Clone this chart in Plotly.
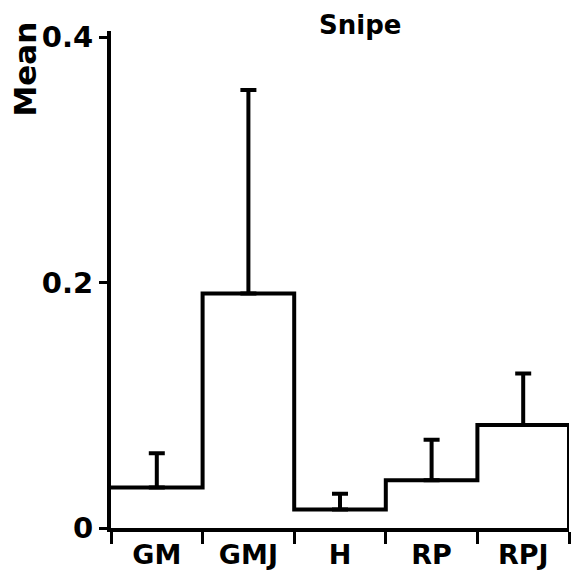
import plotly.graph_objects as go

# Snipe: mean per habitat with upper standard-error bars
categories = ["GM", "GMJ", "H", "RP", "RPJ"]
means = [0.033, 0.191, 0.015, 0.039, 0.084]
err_up = [0.028, 0.166, 0.013, 0.033, 0.042]
y_tick_vals = [0, 0.2, 0.4]
y_tick_text = ["0", "0.2", "0.4"]

W, H = 581, 571
ML, MR, MT, MB = 111, 12, 31, 43
FONT = "DejaVu Sans"
INK = "black"

pos = list(range(len(categories)))

# step outline: each category spans [i-0.5, i+0.5]; final edge drops to zero
edges = [p - 0.5 for p in pos] + [pos[-1] + 0.5]
step_x = edges + [edges[-1]]
step_y = means + [means[-1], 0]

fig = go.Figure()
fig.add_trace(go.Scatter(
    x=step_x, y=step_y, mode="lines", line_shape="hv",
    line=dict(color=INK, width=4), hoverinfo="skip", showlegend=False,
))
fig.add_trace(go.Scatter(
    x=pos, y=means, mode="markers", marker=dict(size=1, color="rgba(0,0,0,0)"),
    error_y=dict(type="data", symmetric=False, array=err_up,
                 arrayminus=[0] * len(means), color=INK, thickness=4, width=8),
    showlegend=False,
))

fig.update_xaxes(
    range=[-0.5, len(categories) - 0.5], automargin=False,
    tickmode="array", tickvals=pos, ticktext=categories,
    ticks="", showgrid=False, zeroline=False, ticklabelstandoff=0,
    showline=True, linecolor=INK, linewidth=4,
    tickfont=dict(family=FONT, size=27, color=INK, weight="bold"),
    minor=dict(tickmode="linear", tick0=-0.5, dtick=1, ticks="outside",
               ticklen=12, tickwidth=3, tickcolor=INK, showgrid=False),
)
fig.update_yaxes(
    range=[0, 0.405], automargin=False,
    tickmode="array", tickvals=y_tick_vals, ticktext=y_tick_text,
    ticks="outside", ticklen=8, tickwidth=3, tickcolor=INK,
    showgrid=False, zeroline=False,
    showline=True, linecolor=INK, linewidth=4,
    tickfont=dict(family=FONT, size=29, color=INK, weight="bold"),
)

plot_h = H - MT - MB
plot_w = W - ML - MR
fig.add_annotation(
    text="Mean", textangle=-90, showarrow=False,
    xref="paper", yref="paper",
    x=(24 - ML) / plot_w, y=(H - MB - 119) / plot_h,
    xanchor="center", yanchor="bottom",
    font=dict(family=FONT, size=31, color=INK, weight="bold"),
)
fig.add_annotation(
    text="Snipe", showarrow=False,
    xref="paper", yref="paper",
    x=(360 - ML) / plot_w, y=(H - MB - 25) / plot_h,
    xanchor="center", yanchor="middle",
    font=dict(family=FONT, size=26, color=INK, weight="bold"),
)

fig.update_layout(
    width=W, height=H,
    margin=dict(l=ML, r=MR, t=MT, b=MB, pad=0, autoexpand=False),
    paper_bgcolor="white", plot_bgcolor="white",
    showlegend=False,
)

fig.write_html("out.html")
